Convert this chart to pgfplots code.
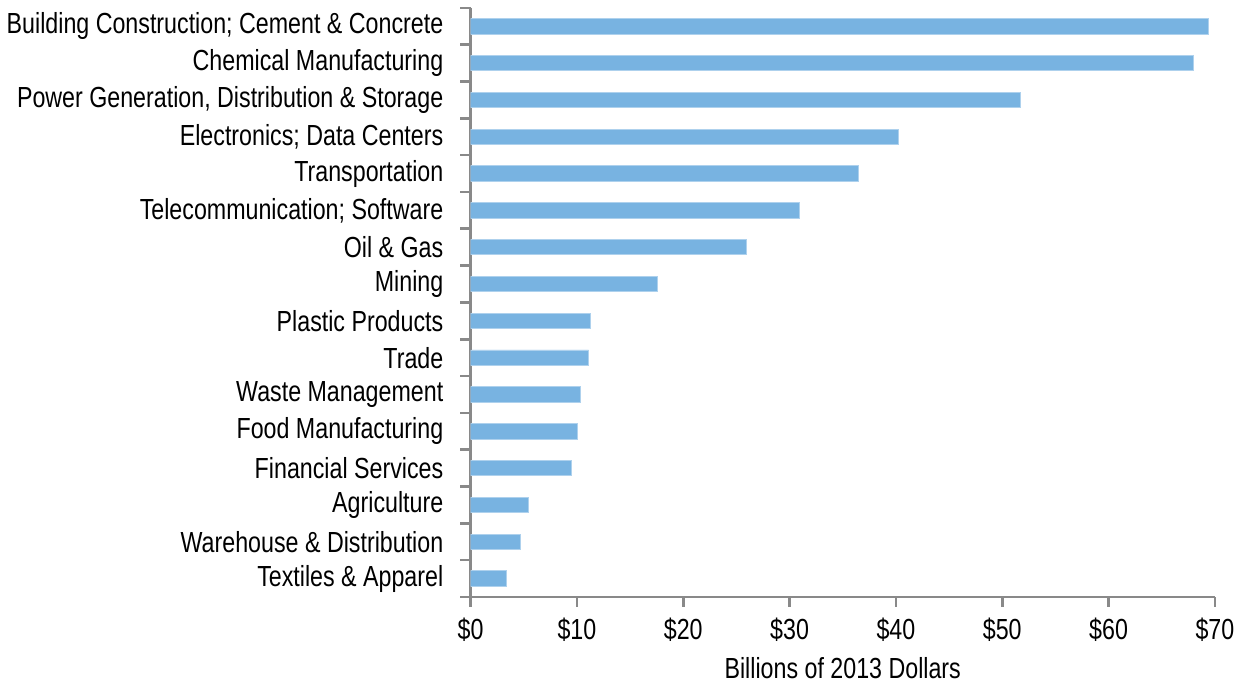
\documentclass[border=0pt]{standalone}
\usepackage{fontspec}
\setmainfont{Liberation Sans}[FakeStretch=0.8]
\usepackage{pgfplots}
\pgfplotsset{compat=1.18}
\definecolor{barblue}{HTML}{78B3E1}
\definecolor{axgray}{HTML}{898989}

\begin{document}
\begin{tikzpicture}
\begin{axis}[
  scale only axis,
  width=369pt, height=292pt,
  xbar, bar width=7.6pt,
  y dir=reverse,
  xmin=0, xmax=70,
  ymin=-0.5, ymax=15.5,
  axis x line*=bottom, axis y line*=left,
  axis line style={draw=axgray, line width=1.3pt},
  xtick={0,10,...,70},
  xticklabels={\$0,\$10,\$20,\$30,\$40,\$50,\$60,\$70},
  ytick={0,...,15},
  yticklabels={
    Building Construction; Cement \& Concrete,
    Chemical Manufacturing,
    {Power Generation, Distribution \& Storage},
    Electronics; Data Centers,
    Transportation,
    Telecommunication; Software,
    Oil \& Gas,
    Mining,
    Plastic Products,
    Trade,
    Waste Management,
    Food Manufacturing,
    Financial Services,
    Agriculture,
    Warehouse \& Distribution,
    Textiles \& Apparel},
  minor ytick={-0.5,0.5,...,15.5},
  tick align=outside,
  major tick length=5pt,
  minor tick length=5pt,
  y tick style={draw=axgray, line width=1.3pt},
  x tick style={draw=axgray, line width=1.3pt},
  major y tick style={draw=none},
  tick label style={font=\fontsize{14.4}{16}\selectfont, text=black},
  yticklabel style={xshift=-5pt},
  xticklabel style={yshift=-2pt},
  xlabel={Billions of 2013 Dollars},
  xlabel style={font=\fontsize{14.4}{16}\selectfont, yshift=-1pt},
]
\addplot[fill=barblue, draw=barblue!60!white, line width=0.4pt]
  coordinates {
    (69.4,0)
    (68.0,1)
    (51.7,2)
    (40.2,3)
    (36.5,4)
    (30.9,5)
    (25.9,6)
    (17.6,7)
    (11.3,8)
    (11.1,9)
    (10.3,10)
    (10.0,11)
    (9.5,12)
    (5.4,13)
    (4.65,14)
    (3.4,15)
  };
\end{axis}
\path (current bounding box.north) ++(0,3pt);
\end{tikzpicture}
\end{document}
